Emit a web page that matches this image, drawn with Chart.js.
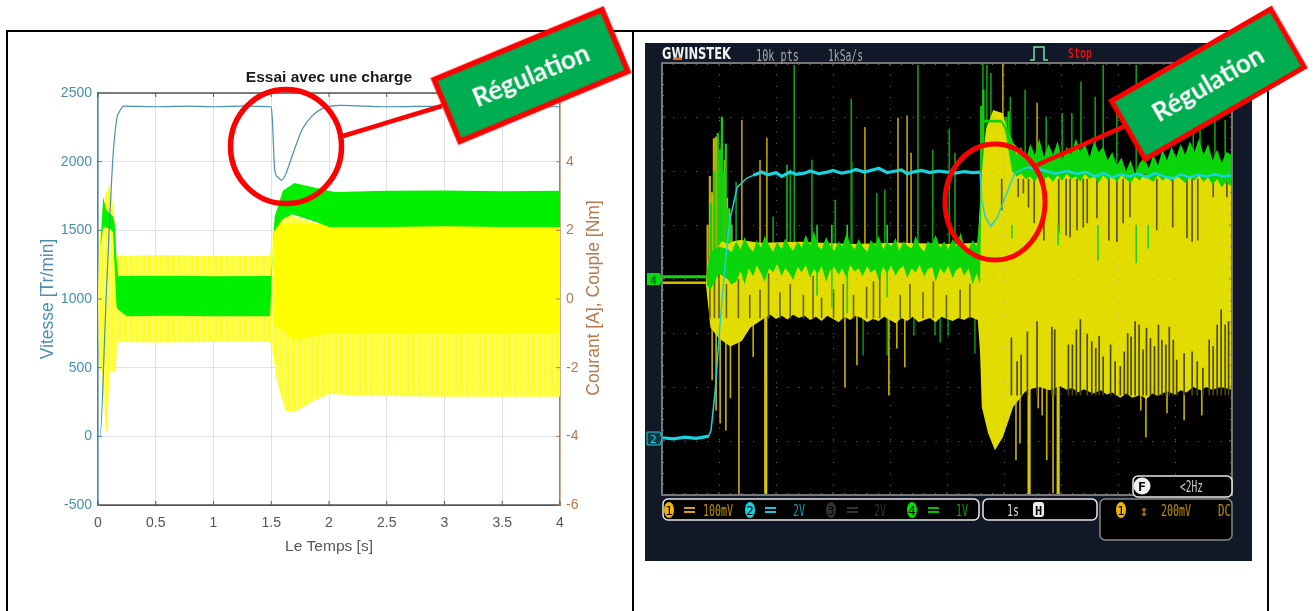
<!DOCTYPE html>
<html><head><meta charset="utf-8">
<script src="https://cdn.jsdelivr.net/npm/chart.js@4"></script>
<style>
html,body{margin:0;padding:0;background:#fff;width:1316px;height:611px;overflow:hidden}
canvas,svg,.p{position:absolute}
</style></head><body>
<div class="p" style="left:6px;top:30px;width:1262px;height:2px;background:#000"></div>
<div class="p" style="left:6px;top:30px;width:2px;height:581px;background:#000"></div>
<div class="p" style="left:632px;top:30px;width:2px;height:581px;background:#000"></div>
<div class="p" style="left:1267px;top:30px;width:2px;height:581px;background:#000"></div>
<div class="p" style="left:645px;top:43px;width:607px;height:518px;background:#111827"></div>
<canvas id="sim" width="660" height="611" style="left:0;top:0"></canvas>
<canvas id="scope" width="607" height="518" style="left:645px;top:43px"></canvas>
<svg width="1316" height="611" style="left:0;top:0" font-family="'Liberation Sans',Arial,sans-serif">
  <text transform="translate(599,298) rotate(-90)" text-anchor="middle" font-size="17.5" fill="#b9794f">Courant [A], Couple [Nm]</text>
  <!-- left callout -->
  <ellipse cx="286" cy="146.5" rx="55.5" ry="57" fill="none" stroke="#f00" stroke-width="5.5"/>
  <line x1="343" y1="136" x2="442" y2="106" stroke="#f00" stroke-width="4.5"/>
  <g transform="translate(531,75.5) rotate(-22.6)">
    <rect x="-91" y="-33.5" width="182" height="67" fill="#00ad50" stroke="#f00" stroke-width="5.5"/>
    <text text-anchor="middle" y="9" font-family="Lato" font-weight="700" font-size="26" fill="#fff">Régulation</text>
  </g>
  <!-- scope header -->
  <g font-family="'DejaVu Sans Mono',monospace">
    <text x="662" y="59" font-family="'DejaVu Sans'" font-weight="700" font-size="16" fill="#f2f2f2" textLength="69" lengthAdjust="spacingAndGlyphs">GWINSTEK</text>
    <rect x="673" y="57.5" width="9" height="2.5" fill="#e07010"/>
    <text x="756" y="61" font-size="15" fill="#a8a8a8" textLength="43" lengthAdjust="spacingAndGlyphs">10k pts</text>
    <text x="828" y="61" font-size="15" fill="#a8a8a8" textLength="35" lengthAdjust="spacingAndGlyphs">1kSa/s</text>
    <path d="M1030 60h4v-13h10v13h4" fill="none" stroke="#7fe0a0" stroke-width="1.5"/>
    <text x="1068" y="58" font-size="14" font-weight="700" fill="#e01010" textLength="24" lengthAdjust="spacingAndGlyphs">Stop</text>
    <!-- channel markers -->
    <path d="M647 273h13l2 6-2 6h-13z" fill="#00e000"/>
    <text x="650" y="283.5" font-size="11" font-weight="700" fill="#063" >4</text>
    <path d="M647 432h13l2 6.500-2 6.500h-13z" fill="#0a3a44" stroke="#19c8d8"/>
    <text x="650" y="443" font-size="11" fill="#19d3e0">2</text>
    <!-- status bars -->
    <rect x="663" y="499" width="316" height="21" rx="5" fill="#000" stroke="#e8e8e8" stroke-width="1.5"/>
    <rect x="983" y="499" width="114" height="21" rx="5" fill="#000" stroke="#e8e8e8" stroke-width="1.500"/>
    <rect x="1100" y="499" width="132" height="41" rx="5" fill="#000" stroke="#888" stroke-width="1.500"/>
    <rect x="1133" y="476" width="99" height="21" rx="5" fill="#000" stroke="#e8e8e8" stroke-width="1.500"/>
    <g font-size="15">
      <ellipse cx="669" cy="510" rx="5" ry="8" fill="#f0b400"/><text x="669" y="515" text-anchor="middle" fill="#000" font-size="13">1</text>
      <rect x="684" y="507" width="11" height="2" fill="#d8a000"/><rect x="684" y="511" width="11" height="2" fill="#d8a000"/>
      <text x="703" y="515.500" fill="#c09000" textLength="30" lengthAdjust="spacingAndGlyphs">100mV</text>
      <ellipse cx="750" cy="510" rx="5" ry="8" fill="#19d3e0"/><text x="750" y="515" text-anchor="middle" fill="#000" font-size="13">2</text>
      <rect x="765" y="507" width="11" height="2" fill="#19c8d8"/><rect x="765" y="511" width="11" height="2" fill="#19c8d8"/>
      <text x="793" y="515.500" fill="#109aa8" textLength="12" lengthAdjust="spacingAndGlyphs">2V</text>
      <ellipse cx="831" cy="510" rx="5" ry="8" fill="#333"/><text x="831" y="515" text-anchor="middle" fill="#000" font-size="13">3</text>
      <rect x="847" y="507" width="11" height="2" fill="#333"/><rect x="847" y="511" width="11" height="2" fill="#333"/>
      <text x="874" y="515.500" fill="#333" textLength="12" lengthAdjust="spacingAndGlyphs">2V</text>
      <ellipse cx="912" cy="510" rx="5" ry="8" fill="#00e000"/><text x="912" y="515" text-anchor="middle" fill="#000" font-size="13">4</text>
      <rect x="928" y="507" width="11" height="2" fill="#00c000"/><rect x="928" y="511" width="11" height="2" fill="#00c000"/>
      <text x="956" y="515.500" fill="#00a000" textLength="12" lengthAdjust="spacingAndGlyphs">1V</text>
      <text x="1007" y="515.500" fill="#d8d8d8" textLength="12" lengthAdjust="spacingAndGlyphs">1s</text>
      <rect x="1033" y="502" width="11" height="15" rx="3" fill="#eee"/><text x="1038.500" y="514.500" text-anchor="middle" fill="#000" font-weight="700" font-size="12">H</text>
      <ellipse cx="1121" cy="510" rx="5" ry="8" fill="#f0b400"/><text x="1121" y="515" text-anchor="middle" fill="#000" font-size="13">1</text>
      <text x="1144" y="515.500" text-anchor="middle" fill="#c09000">↕</text>
      <text x="1161" y="515.500" fill="#c09000" textLength="30" lengthAdjust="spacingAndGlyphs">200mV</text>
      <text x="1218" y="515.500" fill="#c09000" textLength="13" lengthAdjust="spacingAndGlyphs">DC</text>
      <circle cx="1142" cy="486" r="8.500" fill="#f0f0f0"/><text x="1142" y="491" text-anchor="middle" fill="#000" font-weight="700" font-size="13">F</text>
      <text x="1180" y="492" fill="#c8c8c8" textLength="23" lengthAdjust="spacingAndGlyphs">&lt;2Hz</text>
    </g>
  </g>
  <!-- right callout -->
  <ellipse cx="995" cy="202" rx="50" ry="58" fill="none" stroke="#f00" stroke-width="5"/>
  <line x1="1037" y1="165" x2="1127" y2="125" stroke="#f00" stroke-width="4.5"/>
  <g transform="translate(1208,84) rotate(-30)">
    <rect x="-92" y="-33.5" width="184" height="67" fill="#00ad50" stroke="#f00" stroke-width="5"/>
    <text text-anchor="middle" y="9" font-family="Lato" font-weight="700" font-size="26" fill="#fff">Régulation</text>
  </g>
</svg>
<script>
/* ---------- left: simulation, time in s ---------- */
const speedT=[0,.017,.07,.127,.16,.19,.22,.5,.8,1,1.25,1.5,1.51,1.53,1.56,1.59,1.62,1.66,1.71,1.765,1.85,1.95,2.1,2.5,3,3.5,4];
const speedV=[0,0,1000,2000,2300,2370,2405,2400,2405,2400,2405,2400,2300,1940,1885,1865,1900,1990,2110,2230,2330,2390,2410,2400,2405,2400,2400];
const simGreenHiT=[0,.02,.045,.07,.13,.145,.16,.175,.25,.6,1,1.49,1.5,1.53,1.6,1.7,1.89,2.05,2.5,3,3.5,4];
const simGreenHi=[0,1.5,2.97,2.6,2.4,2.2,1.17,.67,.67,.68,.66,.67,.67,2.4,3.15,3.38,3.23,3.12,3.15,3.16,3.14,3.15];
const simGreenLoT=[0,.02,.045,.1,.13,.15,.16,.17,.25,.6,1,1.49,1.52,1.6,1.68,1.89,2,2.5,3,3.5,4];
const simGreenLo=[0,1.5,2.1,2.05,1.95,.5,-.2,-.3,-.5,-.49,-.5,-.5,1.95,2.33,2.47,2.24,2.1,2.1,2.12,2.1,2.1];
const simYellowHiT=[0,.01,.03,.06,.1,.12,.14,.16,.17,.5,1,1.49,1.52,1.6,2,4];
const simYellowHi=[0,1.5,2.4,3,3.35,3,2.4,1.3,1.25,1.28,1.25,1.25,2.2,2.5,2.1,2.1];
const simYellowLoT=[0,.01,.03,.06,.075,.09,.1,.15,.165,.18,.5,1,1.49,1.52,1.55,1.62,1.7,1.85,2,2.3,3,4];
const simYellowLo=[0,-1.9,-2.2,-3.5,-3.93,-3,-2.1,-2.1,-1.5,-1.25,-1.27,-1.25,-1.25,-1.7,-2.4,-3.25,-3.3,-3,-2.77,-2.82,-2.85,-2.85];
const simCoreHiT=[1.52,4];
const simCoreHi=[2.2,2.1];
const simCoreLoT=[1.52,1.7,2,4];
const simCoreLo=[-.7,-1.2,-1,-1];
const timeTicks=[0,.5,1,1.5,2,2.5,3,3.5,4];

/* ---------- right: oscilloscope, x in s (1 s/div), y in divisions ---------- */
const cyanT=[0,.2,.4,.6,.82,.86,.93,1.02,1.11,1.19,
 1.32,1.49,1.6,1.75,1.85,2,2.1,2.25,2.35,2.5,
 2.6,2.75,2.9,3,3.15,3.3,3.4,3.55,3.7,3.8,
 3.95,4.1,4.2,4.3,4.4,4.55,4.7,4.85,5,5.15,
 5.3,5.45,5.58,5.61,5.67,5.77,5.88,6.02,6.19,6.42,
 6.68,6.9,7.1,7.28,7.45,7.6,7.75,7.9,8.05,8.2,
 8.35,8.5,8.65,8.8,8.95,9.1,9.25,9.4,9.55,9.7,
 9.85,10];
const cyanV=[-2.94,-2.96,-2.93,-2.95,-2.91,-2.8,-2.11,-.81,.3,1.09,
 1.7,1.87,1.92,1.98,1.93,1.97,1.9,1.98,1.94,1.96,
 2,1.95,1.98,2.01,1.96,1.99,2.03,1.98,2.02,2.05,
 1.97,2,2.02,1.95,1.98,2.01,1.97,2,1.98,1.96,
 1.99,1.97,1.98,1.46,1.15,.98,1.13,1.52,1.96,2.07,
 2.02,1.95,2,1.95,1.98,1.9,1.96,1.88,1.94,1.9,
 1.95,1.88,1.96,1.9,1.86,1.94,1.88,1.93,1.9,1.94,
 1.9,1.92];
const ch4BaseT=[0,.77];
const ch4GreenBase=[.04,.04];
const ch4YellowBase=[-.07,-.07];
const yHiT=[.77,.81,.88,.95,1.05,1.16,1.25,1.37,1.72,2.42,3.3,4.18,5.05,5.54,5.6,5.68,5.81,5.98,6.11,6.4,6.72,7.68,8.56,10];
const yHi=[-.04,.3,.5,.55,.7,.65,.7,.72,.67,.69,.65,.67,.65,.67,1.83,2.76,3.13,3.07,2.57,2.26,1.98,1.93,1.93,1.91];
const yLoT=[.77,.85,1,1.2,1.4,1.55,1.8,1.9,2,2.1,
 2.2,2.3,2.4,2.5,2.6,2.7,2.8,2.9,3,3.1,
 3.2,3.3,3.4,3.5,3.6,3.7,3.8,3.9,4,4.1,
 4.2,4.3,4.4,4.5,4.6,4.7,4.8,4.9,5,5.1,
 5.2,5.3,5.4,5.54,5.58,5.61,5.72,5.84,5.98,6.16,
 6.37,6.5,6.63,6.8,6.98,7.1,7.2,7.3,7.4,7.56,
 7.7,7.8,7.9,8.04,8.15,8.25,8.39,8.5,8.6,8.7,
 8.86,9,9.1,9.2,9.32,9.45,9.55,9.65,9.8,10];
const yLo=[-.1,-.9,-1.1,-1.25,-1.15,-.9,-.72,-.66,-.74,-.68,
 -.75,-.66,-.72,-.68,-.76,-.7,-.78,-.68,-.74,-.8,
 -.7,-.76,-.68,-.72,-.8,-.74,-.78,-.7,-.76,-.82,
 -.72,-.78,-.7,-.8,-.76,-.72,-.8,-.7,-.74,-.78,
 -.72,-.76,-.7,-.76,-1.37,-2.37,-2.85,-3.17,-2.93,-2.37,
 -2.09,-2.03,-2,-2.06,-1.98,-2.05,-2.02,-2.1,-2.04,-2.12,
 -2.06,-2.14,-2.1,-2.2,-2.12,-2.2,-2.15,-2.22,-2.12,-2.16,
 -2.08,-2.14,-2.06,-2.1,-2,-2.06,-2,-2.05,-2,-2.05];
const gT=[.78,.85,1,1.15,1.22,
 1.3,1.38,1.45,1.52,1.6,1.66,1.74,1.8,1.88,1.95,
 2.02,2.1,2.16,2.24,2.3,2.38,2.45,2.52,2.6,2.66,
 2.74,2.8,2.88,2.95,3.02,3.1,3.16,3.24,3.3,3.38,
 3.45,3.52,3.6,3.66,3.74,3.8,3.88,3.95,4.02,4.1,
 4.16,4.24,4.3,4.38,4.45,4.52,4.6,4.66,4.74,4.8,
 4.88,4.95,5.02,5.1,5.16,5.24,5.3,5.38,5.45,5.52,
 5.58,5.62,5.72,5.85,5.95,6.02,6.14,6.22,6.3,6.38,
 6.46,6.54,6.62,6.7,6.78,6.86,6.94,7.02,7.1,7.18,
 7.26,7.34,7.42,7.5,7.58,7.66,7.74,7.82,7.9,7.98,
 8.06,8.14,8.22,8.3,8.38,8.46,8.54,8.62,8.7,8.78,
 8.86,8.94,9.02,9.1,9.18,9.26,9.34,9.42,9.5,9.58,
 9.66,9.74,9.82,9.9,10];
const gHi=[.1,.5,.6,.55,.5,
 .7,.55,.78,.6,.5,.72,.58,.8,.62,.5,
 .68,.55,.75,.6,.52,.7,.58,.82,.62,.9,
 .6,.55,.78,.62,.52,.7,.6,.85,.66,.55,
 .74,.6,.5,.72,.62,.8,.55,.68,.6,.76,
 .52,.7,.62,.56,.8,.6,.5,.7,.64,.82,
 .58,.7,.55,.74,.6,.86,.62,.55,.72,.6,
 1.2,2.95,2.95,2.95,2.95,2.85,2.6,2.3,2.45,2.2,
 2.5,2.3,2.6,2.25,2.5,2.3,2.55,2.2,2.45,2.3,
 2.6,2.35,2.5,2.25,2.55,2.35,2.45,2.2,2.35,2.1,
 2.25,2,2.2,1.95,2.15,2.25,2.05,2.3,2.1,2.4,
 2.2,2.45,2.25,2.5,2.3,2.55,2.35,2.6,2.3,2.5,
 2.2,2.4,2.15,2.35,2.3];
const gLo=[-.1,-.2,.1,0,-.1,
 -.05,.15,-.1,.2,.05,.25,.1,-.05,.2,.12,
 .28,.05,.2,.1,-.02,.22,.12,.26,.02,.18,
 .1,.24,-.05,.16,.22,.08,.2,.02,.26,.14,
 .2,.05,.24,.12,.18,-.02,.22,.1,.25,.06,
 .18,.24,.02,.2,.12,.26,.04,.18,.22,-.05,
 .2,.1,.24,.02,.16,.22,.06,.2,-.1,.1,
 -.1,2.9,2.9,2.9,2.9,2.75,2,1.9,1.95,1.85,
 1.9,1.8,1.95,1.85,1.9,1.8,1.92,1.82,1.95,1.85,
 1.9,1.8,1.95,1.85,1.9,1.78,1.92,1.84,1.9,1.8,
 1.92,1.85,1.78,1.9,1.82,1.95,1.85,1.8,1.92,1.82,
 1.9,1.8,1.92,1.85,1.78,1.9,1.82,1.92,1.8,1.88,
 1.75,1.85,1.7,1.8,1.7];
const greenUpT=[1.3,1.95,2.19,2.25,2.32,2.63,2.63,3.04,3.32,3.33,3.77,3.91,4.49,4.75,5.04,5.14,5.63,5.7,5.77,6.11,6.37,6.74,7.02,7.19,7.35,7.6,7.74,7.98,8.32,9.32,9.44,9.7,9.88];
const greenUpTop=[1.8,1.15,2.11,2.02,3.96,2.2,.96,1.46,3.33,2.17,1.59,1.65,3.96,2.39,2.78,2.33,4,3.96,3.81,3.37,3.5,3,3.07,3.07,3.65,3.37,3.96,3.13,3.96,3.19,3.87,3,2.94];
const greenUpBase=[.5,.5,.5,.5,.5,.5,.5,.5,.5,.5,.5,.5,.5,.5,.5,.5,1,2,2,2,2,2,2,2,2,2,2,2,2,2,2,2,2];
const greenBurstT=[.86,.92,.98,1.02,1.05,1.08,1.12,1.16,1.2,5.6,5.64,6.04,6.08];
const greenBurstTop=[1.4,2,2.7,2.4,3,2,2.5,1.3,1.1,3.2,3.5,3,3.1];
const yellowUpT=[1.4,1.72,1.84,2.19,3.56,4.14,4.3,4.37,5.98,6.58];
const yellowUpTop=[2.94,2.2,2.61,2.11,2.81,2.98,3.02,2.33,4,3.26];
const yellowUpBase=[.5,.5,.5,.5,.5,.5,.5,.5,2,2];
const yellowBurstT=[.8,.84,.88,.91,.95,.99,1.02,1.05,1.1,1.14,1.18,1.22];
const yellowBurstTop=[1,1.9,1.6,2.6,2.63,2.2,2,2.5,2.2,1.5,1.3,1];
const yellowDownT=[.88,.95,1.02,1.12,1.2,1.35,1.6,3.21,3.42,3.98,4.12,4.26,6.21,6.28,6.6,6.67,6.75,6.86,8.4,8.49,8.86,9.16,9.47];
const yellowDownBottom=[-1.87,-2.43,-2.67,-2.8,-2.2,-4,-1.44,-2,-1.59,-2.15,-1.28,-1.63,-3.35,-3.04,-2.39,-2.52,-3.35,-3.96,-2.43,-2.93,-2.48,-2.61,-2.52];
const yellowWideT=[1.82,6.44,6.95];
const yellowWideBottom=[-4,-4,-4];
const greenDownT=[3.53,3.95,4.42,4.79,4.88,5.02,5.49];
const greenDownBottom=[-1.41,-1.41,-1.04,-1.04,-1.17,-1.04,-1.37];
const greenOverT=[2.72,2.98,3.25,3.95,6.14,6.95,7.65,8.32,8.53];
const greenOverBottom=[-.3,-.52,-.63,-.33,.76,.63,.35,.3,.57];
const gapPreT=[.84,.92,1,1.13,1.34,1.54,1.72,1.87,2.07,2.25,2.48,2.65,2.8,3.01,3.18,3.36,3.59,3.71,3.82,4.18,4.35,4.58,4.76,4.99,5.23,5.4];
const gapPreTop=[.3,.4,.5,-.1,0,-.3,-.2,.1,-.25,-.1,-.3,.05,-.35,-.2,-.1,-.3,-.15,-.05,.1,-.3,-.1,-.25,-.05,-.3,-.2,-.1];
const gapLowT=[6.13,6.23,6.3,6.41,6.58,6.84,6.89,7.13,7.2,7.27,7.34,7.46,7.54,7.61,7.67,7.74,7.87,7.95,8.04,8.11,8.17,8.23,8.3,8.37,8.44,8.5,8.57,8.64,8.71,8.77,8.84,8.9,8.97,9.03,9.16,9.3,9.39,9.49,9.6,9.67,9.74,9.81,9.88,9.94];
const gapLowTop=[-1.09,-1.53,-1.41,-.98,-.79,-.89,-.94,-1.22,-1.22,-.94,-.75,-1.02,-1.16,-1.28,-1.06,-1.44,-1.22,-1.53,-1.62,-1.35,-1.01,-1.07,-.79,-.85,-1.31,-.91,-1.1,-1.25,-.85,-1.13,-1.22,-.89,-1.13,-1.5,-1.38,-1.35,-1.53,-1.65,-1.13,-1.25,-.85,-.57,-.85,-.79];
const gapHighT=[5.96,6.25,6.34,6.43,6.53,6.7,6.96,7.09,7.16,7.28,7.39,7.46,7.63,7.84,7.98,8.09,8.21,8.68,8.96,9.21,9.3,9.4,9.67,9.91];
const gapHighBottom=[1.28,1.52,1.59,1.33,1.04,.72,.85,.81,.78,.91,.96,1.04,1.13,.72,.69,1.04,1.15,.91,.96,.76,.69,.72,1.52,1.52];

const xy=(t,v)=>t.map((x,i)=>({x,y:v[i]}));
const span=(t,a,b)=>t.map((x,i)=>({x,y:[Array.isArray(b)?b[i]:b,a[i]]}));
const band=(t,v,extra)=>Object.assign({type:'line',data:xy(t,v),pointRadius:0,borderWidth:0,tension:0,fill:false},extra);
const str=v=>String(v);

/* left chart */
function stripes(){
  const c=document.createElement('canvas');c.width=3;c.height=1;
  const g=c.getContext('2d');
  g.fillStyle='#ffff28';g.fillRect(0,0,2,1);
  g.fillStyle='#ffff80';g.fillRect(2,0,1,1);
  return g.createPattern(c,'repeat');
}
const simFrame={id:'simFrame',afterDraw(ch){
  const {ctx,chartArea:a,scales:s}=ch;ctx.save();
  ctx.strokeStyle='#555';ctx.lineWidth=1.5;
  ctx.beginPath();ctx.moveTo(a.left,a.top);ctx.lineTo(a.right,a.top);ctx.moveTo(a.left,a.bottom);ctx.lineTo(a.right,a.bottom);ctx.stroke();
  ctx.lineWidth=1;
  s.x.ticks.forEach(t=>{const p=s.x.getPixelForValue(t.value);ctx.beginPath();ctx.moveTo(p,a.top);ctx.lineTo(p,a.top+4);ctx.moveTo(p,a.bottom);ctx.lineTo(p,a.bottom-4);ctx.stroke();});
  ctx.strokeStyle='#3f89a8';s.y.ticks.forEach(t=>{const p=s.y.getPixelForValue(t.value);ctx.beginPath();ctx.moveTo(a.left,p);ctx.lineTo(a.left+4,p);ctx.stroke();});
  ctx.strokeStyle='#b9794f';s.y2.ticks.forEach(t=>{const p=s.y2.getPixelForValue(t.value);ctx.beginPath();ctx.moveTo(a.right,p);ctx.lineTo(a.right-4,p);ctx.stroke();});
  ctx.restore();
}};
new Chart(document.getElementById('sim'),{
  type:'line',
  data:{datasets:[
    band(simYellowHiT,simYellowHi,{yAxisID:'y2',fill:{target:1},backgroundColor:stripes(),order:9}),
    band(simYellowLoT,simYellowLo,{yAxisID:'y2',order:9}),
    band(simCoreHiT,simCoreHi,{yAxisID:'y2',fill:{target:3},backgroundColor:'#ffff00',order:8}),
    band(simCoreLoT,simCoreLo,{yAxisID:'y2',order:8}),
    band(simGreenHiT,simGreenHi,{yAxisID:'y2',fill:{target:5},backgroundColor:'#00f000',order:7}),
    band(simGreenLoT,simGreenLo,{yAxisID:'y2',order:7}),
    {type:'line',data:xy(speedT,speedV),yAxisID:'y',borderColor:'#4a8fb0',borderWidth:1.2,pointRadius:0,cubicInterpolationMode:'monotone',fill:false,order:1}
  ]},
  options:{
    responsive:false,animation:false,
    layout:{padding:{left:38,right:40,top:0,bottom:46}},
    plugins:{legend:{display:false},tooltip:{enabled:false},
      title:{display:true,text:'Essai avec une charge',color:'#1a1a1a',
        font:{family:"'Liberation Sans',Arial",size:15.5,weight:'bold',lineHeight:1.2},padding:{top:68.7,bottom:5.7}}},
    scales:{
      x:{type:'linear',min:0,max:4,
        afterBuildTicks(s){s.ticks=timeTicks.map(value=>({value}));},
        afterFit(s){s.height=60;},
        border:{color:'#555',width:1},grid:{color:'#dde3e8',drawTicks:false},
        ticks:{color:'#555',padding:10,maxRotation:0,autoSkip:false,callback:str,font:{family:"'Liberation Sans',Arial",size:14}},
        title:{display:true,text:'Le Temps [s]',color:'#555',padding:{top:0,bottom:9},font:{family:"'Liberation Sans',Arial",size:15.5}}},
      y:{type:'linear',position:'left',min:-500,max:2500,
        afterFit(s){s.width=60;},
        border:{color:'#3f89a8',width:1.5},grid:{color:'#dde3e8',drawTicks:false},
        ticks:{stepSize:500,color:'#4a8fb0',padding:6,callback:str,font:{family:"'Liberation Sans',Arial",size:14}},
        title:{display:true,text:'Vitesse [Tr/min]',color:'#4a8fb0',padding:{top:0,bottom:0},font:{family:"'Liberation Sans',Arial",size:17.5}}},
      y2:{type:'linear',position:'right',min:-6,max:6,
        afterFit(s){s.width=60;},
        border:{color:'#b9794f',width:1.5},grid:{display:false,drawTicks:false},
        ticks:{stepSize:2,color:'#b9794f',padding:6,callback:str,font:{family:"'Liberation Sans',Arial",size:14}}}
    }
  },
  plugins:[simFrame]
});

/* right chart */
const scopeFrame={id:'scopeFrame',
  beforeDraw(ch){const {ctx,chartArea:a}=ch;ctx.save();ctx.fillStyle='#000';ctx.fillRect(a.left,a.top,a.width,a.height);ctx.restore();},
  afterDraw(ch){
    const {ctx,chartArea:a,scales:s}=ch;ctx.save();
    ctx.strokeStyle='#777';ctx.lineWidth=2;ctx.strokeRect(a.left,a.top,a.width,a.height);
    ctx.lineWidth=1;ctx.beginPath();
    for(let i=0;i<=50;i++){const p=s.x.getPixelForValue(i/5);const l=i%5?2:3;
      ctx.moveTo(p,a.top);ctx.lineTo(p,a.top+l);ctx.moveTo(p,a.bottom);ctx.lineTo(p,a.bottom-l);}
    for(let i=0;i<=40;i++){const p=s.y.getPixelForValue(i/5-4);const l=i%5?2:3;
      ctx.moveTo(a.left,p);ctx.lineTo(a.left+l,p);ctx.moveTo(a.right,p);ctx.lineTo(a.right-l,p);}
    ctx.stroke();ctx.restore();
  }};
const bar=(data,color,order,thick)=>({type:'bar',data,backgroundColor:color,barThickness:thick||1,grouped:false,order,borderWidth:0});
const cyanWidth=c=>{const t=c.p0.parsed.x;
  if((t>=.8&&t<1.5)||(t>=5.55&&t<6.2))return 1.5;
  return t<5.55?3.2:2.5;};
new Chart(document.getElementById('scope'),{
  type:'line',
  data:{datasets:[
    bar(span(greenUpT,greenUpTop,greenUpBase),'#0f9a0f',12),
    bar(span(greenBurstT,greenBurstTop,0),'#10d010',11.5,1.5),
    bar(span(yellowUpT,yellowUpTop,yellowUpBase),'#b89f00',12),
    bar(span(yellowBurstT,yellowBurstTop,0),'#c8b400',12,1.5),
    bar(span(yellowDownT,yellowDownBottom,-.5),'#c2ae00',11),
    bar(span(yellowWideT,yellowWideBottom,-.5),'#d8c800',11,2.5),
    bar(span(greenDownT,greenDownBottom,-.5),'#0a8a0a',11),
    band(yHiT,yHi,{fill:{target:8},backgroundColor:'#e2dc00',order:10}),
    band(yLoT,yLo,{order:10}),
    bar(span(gapPreT,gapPreTop,-.72),'#6b6500',9),
    bar(span(gapLowT,gapLowTop,-2.15),'#4a4600',9),
    bar(span(gapHighT,gapHighBottom,1.85),'#5a5500',9),
    bar(span(greenOverT,greenOverBottom,1),'#22d022',8),
    band(gT,gHi,{fill:{target:14},backgroundColor:'#0ad40a',order:7}),
    band(gT,gLo,{order:7}),
    {type:'line',data:xy(ch4BaseT,ch4YellowBase),borderColor:'#d8c000',borderWidth:2.5,pointRadius:0,order:3,fill:false},
    {type:'line',data:xy(ch4BaseT,ch4GreenBase),borderColor:'#10d810',borderWidth:3,pointRadius:0,order:2,fill:false},
    {type:'line',data:xy(cyanT,cyanV),borderColor:'#19d3e0',borderWidth:2.5,segment:{borderWidth:cyanWidth},pointRadius:0,tension:0,order:1,fill:false}
  ]},
  options:{
    responsive:false,animation:false,
    layout:{padding:{left:17,right:20,top:20,bottom:66}},
    plugins:{legend:{display:false},tooltip:{enabled:false}},
    scales:{
      x:{type:'linear',min:0,max:10,offset:false,
        afterFit(s){s.height=0;},
        border:{display:false,dash:[1,10.4]},
        grid:{offset:false,z:1,color:'rgba(150,150,150,.75)',drawTicks:false},
        ticks:{display:false,stepSize:1}},
      y:{type:'linear',min:-4,max:4,
        afterFit(s){s.width=0;},
        border:{display:false,dash:[1,10.4]},
        grid:{z:1,color:'rgba(150,150,150,.75)',drawTicks:false},
        ticks:{display:false,stepSize:1}}
    }
  },
  plugins:[scopeFrame]
});
</script>
</body></html>
